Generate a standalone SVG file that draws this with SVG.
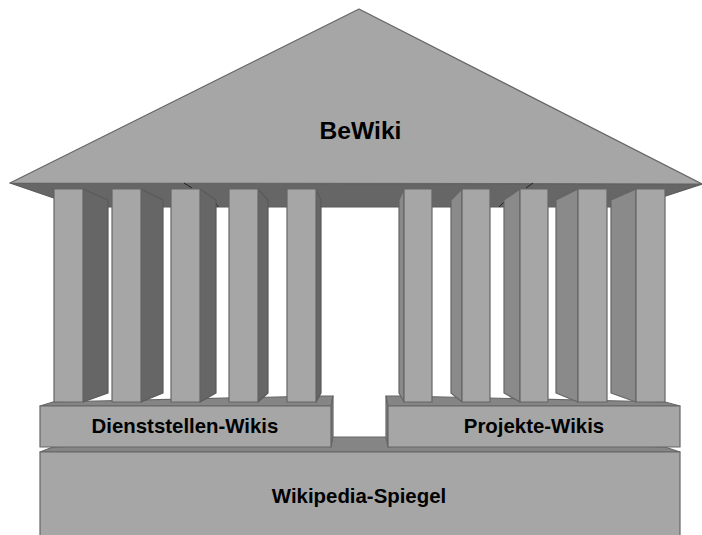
<svg xmlns="http://www.w3.org/2000/svg" width="702" height="535" viewBox="0 0 702 535">
  <style>
    .f { fill: #a6a6a6; stroke: #666; stroke-width: 1.2; stroke-linejoin: round; }
    .t { fill: #858585; stroke: #666; stroke-width: 1.2; stroke-linejoin: round; }
    .d { fill: #666; stroke: #5a5a5a; stroke-width: 1.2; stroke-linejoin: round; }
    .l { fill: #8a8a8a; stroke: #666; stroke-width: 1.2; stroke-linejoin: round; }
    text { font-family: "Liberation Sans", Arial, sans-serif; font-weight: bold; fill: #000; text-anchor: middle; }
    .s { font-size: 20.4px; }
  </style>
  <rect width="702" height="535" fill="#fff"/>

  <!-- foundation -->
  <g id="wikipedia-spiegel">
    <polygon class="t" points="40,452 53,447 331,437 388,437 665,447 680,452"/>
    <rect class="f" x="40" y="452" width="640" height="90"/>
    <text class="s" x="359" y="503">Wikipedia-Spiegel</text>
  </g>

  <!-- plinths -->
  <g id="dienststellen-wikis">
    <polygon class="t" points="40,406 53,402 320,396 333,396 331,406"/>
    <polygon class="t" points="331,406 333,396 333,437 331,447"/>
    <rect class="f" x="40" y="406" width="291" height="41"/>
    <text class="s" x="185" y="433">Dienststellen-Wikis</text>
  </g>
  <g id="projekte-wikis">
    <polygon class="t" points="388,406 386,396 400,396 665,402 680,406"/>
    <polygon class="t" points="388,406 386,396 386,437 388,447"/>
    <rect class="f" x="388" y="406" width="292" height="41"/>
    <text class="s" x="534" y="433">Projekte-Wikis</text>
  </g>

  <!-- roof -->
  <g id="bewiki">
    <polygon class="d" points="10,183 80,207 632,207 702,184"/>
    <polygon class="f" points="10,183 359,9 702,184"/>
    <path d="M184,183 L192,188 M526,188 L533,183 M214,200 L218,207 M499,207 L504,202" fill="none" stroke="#222" stroke-width="1"/>
    <text x="360.500" y="139" font-size="24.600">BeWiki</text>
  </g>

  <!-- columns, left wing -->
  <g id="column-1">
    <polygon class="d" points="83,189 108,200 108,393 83,402"/>
    <rect class="f" x="54" y="189" width="29" height="213"/>
  </g>
  <g id="column-2">
    <polygon class="d" points="141,189 163,200 163,393 141,402"/>
    <rect class="f" x="112" y="189" width="29" height="213"/>
  </g>
  <g id="column-3">
    <polygon class="d" points="200,189 216,200 216,393 200,402"/>
    <rect class="f" x="171" y="189" width="29" height="213"/>
  </g>
  <g id="column-4">
    <polygon class="d" points="258,189 268,200 268,393 258,402"/>
    <rect class="f" x="229" y="189" width="29" height="213"/>
  </g>
  <g id="column-5">
    <polygon class="d" points="316,189 321,200 321,393 316,402"/>
    <rect class="f" x="287" y="189" width="29" height="213"/>
  </g>

  <!-- columns, right wing -->
  <g id="column-6">
    <polygon class="l" points="404,189 399,200 399,393 404,402"/>
    <rect class="f" x="404" y="189" width="28" height="213"/>
  </g>
  <g id="column-7">
    <polygon class="l" points="462,189 451,200 451,393 462,402"/>
    <rect class="f" x="462" y="189" width="28" height="213"/>
  </g>
  <g id="column-8">
    <polygon class="l" points="520,189 504,200 504,393 520,402"/>
    <rect class="f" x="520" y="189" width="28" height="213"/>
  </g>
  <g id="column-9">
    <polygon class="l" points="578,189 556,200 556,393 578,402"/>
    <rect class="f" x="578" y="189" width="29" height="213"/>
  </g>
  <g id="column-10">
    <polygon class="l" points="636,189 611,200 611,393 636,402"/>
    <rect class="f" x="636" y="189" width="29" height="213"/>
  </g>
</svg>
